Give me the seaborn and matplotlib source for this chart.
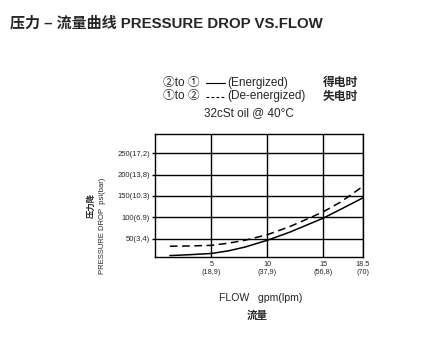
import pandas as pd
import seaborn as sns
import matplotlib.pyplot as plt
from matplotlib.lines import Line2D

# values
flow_gpm = [1.3, 3, 5, 6.5, 8, 10, 12, 14, 15, 16.5, 18.5]
psi_energized = [10, 12, 15, 21, 30, 46, 65, 87, 98, 118, 145]
psi_de_energized = [32, 32.5, 34, 39, 46, 59, 78, 101, 113, 135, 172]

x_ticks = [5, 10, 15, 18.5]
x_tick_labels = ['5\n(18,9)', '10\n(37,9)', '15\n(56,8)', '18.5\n(70)']
y_ticks = [50, 100, 150, 200, 250]
y_tick_labels = ['50(3,4)', '100(6.9)', '150(10.3)', '200(13,8)', '250(17,2)']

# **************************************************************************

sns.set_style('white')
plt.rcParams['font.family'] = ['Liberation Sans', 'Noto Sans CJK SC', 'DejaVu Sans']

df = pd.DataFrame({'flow': flow_gpm * 2,
                   'psi': psi_energized + psi_de_energized,
                   'mode': ['Energized'] * len(flow_gpm) + ['De-energized'] * len(flow_gpm)})

W, H = 432, 356
fig = plt.figure(figsize=(W / 100, H / 100), dpi=100)
ax = fig.add_axes([155.3 / W, 1 - 257.3 / H, (362.7 - 155.3) / W, (257.3 - 134) / H])

sns.lineplot(data=df, x='flow', y='psi', hue='mode', style='mode',
             palette={'Energized': 'black', 'De-energized': 'black'},
             dashes={'Energized': '', 'De-energized': (5, 3)},
             linewidth=1.1, legend=False, ax=ax)

ax.set_xlim(0, 18.5)
ax.set_ylim(6, 295)
ax.set_xticks(x_ticks)
ax.set_xticklabels(x_tick_labels, fontsize=5.2, linespacing=1.2)
ax.set_yticks(y_ticks)
ax.set_yticklabels(y_tick_labels, fontsize=5.5)
ax.tick_params(axis='x', length=0, pad=3)
ax.tick_params(axis='y', length=2.5, width=1, pad=1.5, color='black', left=True)
ax.grid(True, color='black', linewidth=1)
ax.set_xlabel('')
ax.set_ylabel('')
for s in ax.spines.values():
    s.set_color('black')
    s.set_linewidth(1)

# titles and labels
fig.text(10 / W, 1 - 23.3 / H, '压力 – 流量曲线 PRESSURE DROP VS.FLOW',
         fontsize=10.8, fontweight='bold', va='center', ha='left')

row1, row2 = 1 - 83.3 / H, 1 - 96.5 / H
fig.text(163 / W, row1, '②to ①', fontsize=8.5, va='center')
fig.text(163 / W, row2, '①to ②', fontsize=8.5, va='center')
fig.add_artist(Line2D([206 / W, 225 / W], [row1, row1], color='black', linewidth=0.8))
fig.add_artist(Line2D([206 / W, 225 / W], [row2, row2], color='black', linewidth=0.8,
                      linestyle=(0, (2.5, 2))))
fig.text(227 / W, row1, '(Energized)', fontsize=8.5, va='center')
fig.text(227 / W, row2, '(De-energized)', fontsize=8.5, va='center')
fig.text(323 / W, row1, '得电时', fontsize=8.5, fontweight='bold', va='center')
fig.text(323 / W, row2, '失电时', fontsize=8.5, fontweight='bold', va='center')
fig.text(249 / W, 1 - 113.3 / H, '32cSt oil @ 40°C', fontsize=8.5, va='center', ha='center')

fig.text(91 / W, 1 - 205 / H, '压力降', fontsize=6, fontweight='bold', rotation=90,
         va='center', ha='center')
fig.text(103 / W, 1 - 225.5 / H, 'PRESSURE DROP  psi(bar)', fontsize=5.5, rotation=90,
         va='center', ha='center')

fig.text(261 / W, 1 - 297.7 / H, 'FLOW   gpm(lpm)', fontsize=7.6, va='center', ha='center')
fig.text(257 / W, 1 - 316 / H, '流量', fontsize=7.6, fontweight='bold', va='center', ha='center')

fig.savefig('out.png', dpi=100)
